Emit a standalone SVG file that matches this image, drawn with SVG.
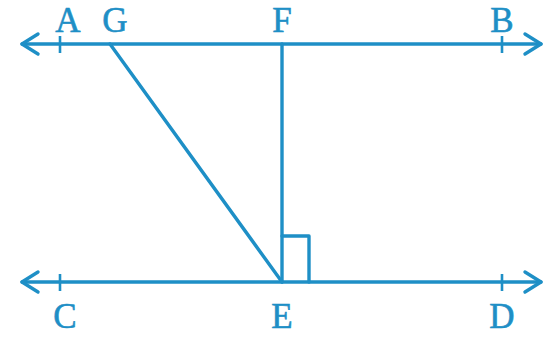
<svg xmlns="http://www.w3.org/2000/svg" width="556" height="339" viewBox="0 0 556 339">
<style>
.ln{stroke:#1e8fc6;stroke-width:3.4;fill:none;stroke-linecap:round;stroke-linejoin:round}
.tk{stroke:#1e8fc6;stroke-width:2.6;fill:none}
.lb{font-family:"Liberation Serif","Times New Roman",serif;font-size:35px;fill:#1e8fc6;stroke:#1e8fc6;stroke-width:0.6;text-anchor:middle}
</style>
<rect width="556" height="339" fill="#ffffff"/>
<g id="connectors">
<line class="ln" x1="22" y1="44" x2="541" y2="44"/>
<polyline class="ln" points="38,34 22,44 38,54"/>
<polyline class="ln" points="525,34 541,44 525,54"/>
<line class="ln" x1="22" y1="282" x2="541" y2="282"/>
<polyline class="ln" points="38,272 22,282 38,292"/>
<polyline class="ln" points="525,272 541,282 525,292"/>
<line class="ln" x1="282" y1="44" x2="282" y2="282"/>
<line class="ln" x1="110" y1="44" x2="282" y2="282"/>
<polyline class="ln" points="282,236 309,236 309,282"/>
</g>
<g id="A"><line class="tk" x1="60" y1="36" x2="60" y2="53"/><text class="lb" x="68" y="32">A</text></g>
<g id="G"><text class="lb" x="115" y="32">G</text></g>
<g id="F"><text class="lb" x="282" y="32">F</text></g>
<g id="B"><line class="tk" x1="502" y1="36" x2="502" y2="53"/><text class="lb" x="502" y="32">B</text></g>
<g id="C"><line class="tk" x1="60" y1="274" x2="60" y2="291"/><text class="lb" x="65" y="328">C</text></g>
<g id="E"><text class="lb" x="282" y="328">E</text></g>
<g id="D"><line class="tk" x1="502" y1="274" x2="502" y2="291"/><text class="lb" x="502" y="328">D</text></g>
</svg>
